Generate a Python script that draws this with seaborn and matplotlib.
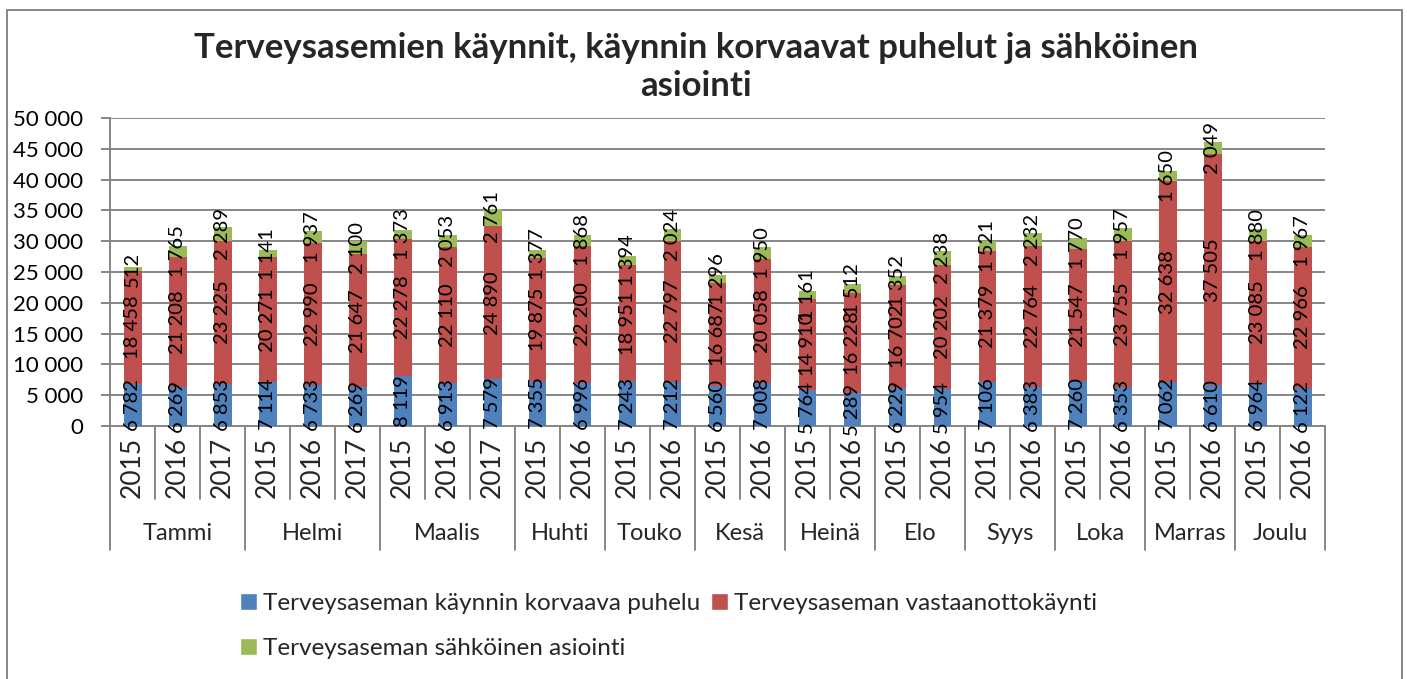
import numpy as np
import pandas as pd
import matplotlib
matplotlib.use("Agg")
import matplotlib.pyplot as plt
import seaborn as sns
from matplotlib.ticker import FuncFormatter, MultipleLocator
import matplotlib.transforms as mtransforms
from matplotlib.patches import Patch
from matplotlib.lines import Line2D

# ---------------- data ----------------
months = ["Tammi", "Helmi", "Maalis", "Huhti", "Touko", "Kesä",
          "Heinä", "Elo", "Syys", "Loka", "Marras", "Joulu"]
month_years = [["2015", "2016", "2017"], ["2015", "2016", "2017"], ["2015", "2016", "2017"],
               ["2015", "2016"], ["2015", "2016"], ["2015", "2016"], ["2015", "2016"],
               ["2015", "2016"], ["2015", "2016"], ["2015", "2016"], ["2015", "2016"],
               ["2015", "2016"]]

# Terveysaseman käynnin korvaava puhelu
phone = [6782, 6269, 6853, 7114, 6733, 6269, 8119, 6913, 7579, 7355, 6996,
         7243, 7212, 6560, 7008, 5764, 5289, 6229, 5954, 7106, 6383,
         7260, 6353, 7062, 6610, 6964, 6122]
# Terveysaseman vastaanottokäynti
visits = [18458, 21208, 23225, 20271, 22990, 21647, 22278, 22110, 24890, 19875, 22200,
          18951, 22797, 16687, 20058, 14910, 16228, 16702, 20202, 21379, 22764,
          21547, 23755, 32638, 37505, 23085, 22966]
# Terveysaseman sähköinen asiointi
eservice = [512, 1765, 2289, 1141, 1937, 2100, 1373, 2053, 2761, 1377, 1868,
            1394, 2024, 1296, 1950, 1161, 1512, 1352, 2238, 1521, 2232,
            1770, 1957, 1650, 2049, 1880, 1967]

series_names = ["Terveysaseman käynnin korvaava puhelu",
                "Terveysaseman vastaanottokäynti",
                "Terveysaseman sähköinen asiointi"]
title = "Terveysasemien käynnit, käynnin korvaavat puhelut ja sähköinen\nasiointi"

BLUE, RED, GREEN = "#4F81BD", "#C0504D", "#9BBB59"
GRID = "#868686"

cats, years, month_of = [], [], []
for m, ys in zip(months, month_years):
    for y in ys:
        cats.append(f"{m} {y}")
        years.append(y)
        month_of.append(m)

df = pd.DataFrame({"cat": cats, "phone": phone, "visit": visits, "e": eservice})

# ---------------- style ----------------
sns.set_theme(style="white")
plt.rcParams["font.family"] = ["Lato", "DejaVu Sans"]

W, H = 1407, 679
fig = plt.figure(figsize=(W / 100, H / 100), dpi=100)
ax_l, ax_r, ax_t, ax_b = 110, 1325, 118, 426
ax = fig.add_axes([ax_l / W, 1 - ax_b / H, (ax_r - ax_l) / W, (ax_b - ax_t) / H])

fmt = lambda v: f"{v:,.0f}".replace(",", " ")

bottom2 = np.array(phone)
bottom3 = np.array(phone) + np.array(visits)
common = dict(data=df, x="cat", width=0.4, saturation=1, errorbar=None,
              linewidth=0, ax=ax, zorder=3)
sns.barplot(y="phone", color=BLUE, **common)
sns.barplot(y="visit", color=RED, bottom=bottom2, **common)
sns.barplot(y="e", color=GREEN, bottom=bottom3, **common)

for cont in ax.containers:
    ax.bar_label(cont, labels=[fmt(v) for v in cont.datavalues], label_type="center",
                 rotation=90, fontsize=14.5, color="black", zorder=5)

n = len(cats)
ax.set_xlim(-0.5, n - 0.5)
ax.set_ylim(0, 50000)
ax.yaxis.set_major_locator(MultipleLocator(5000))
ax.yaxis.set_major_formatter(FuncFormatter(lambda v, p: fmt(v)))
ax.set_xlabel("")
ax.set_ylabel("")
ax.set_xticks([])
ax.grid(axis="y", color=GRID, linewidth=1.4, zorder=0)
ax.set_axisbelow(True)
for s in ["top", "right"]:
    ax.spines[s].set_visible(False)
for s in ["left", "bottom"]:
    ax.spines[s].set_color(GRID)
    ax.spines[s].set_linewidth(1.4)
ax.tick_params(axis="y", which="major", direction="out", length=6.5, width=1.4,
               color=GRID, labelsize=16, pad=13, left=True, labelcolor="black")

# two-level category axis
trans = mtransforms.blended_transform_factory(ax.transData, ax.transAxes)
axh = ax_b - ax_t
y_year = -(499 - ax_b) / axh
y_month = -(550 - ax_b) / axh
for i in range(n + 1):
    boundary = i - 0.5
    is_month_edge = (i == 0 or i == n or month_of[i] != month_of[i - 1])
    yend = y_month if is_month_edge else y_year
    ax.add_line(Line2D([boundary, boundary], [0, yend], transform=trans, color=GRID,
                       linewidth=1.4, clip_on=False))
for i, y in enumerate(years):
    ax.text(i, -(437 - ax_b) / axh, y, transform=trans,
            rotation=90, ha="center", va="top", fontsize=19)
start = 0
for m, ys in zip(months, month_years):
    c = start + (len(ys) - 1) / 2
    ax.text(c, -(533 - ax_b) / axh, m, transform=trans, ha="center", va="center", fontsize=17)
    start += len(ys)

# title
fig.text(696 / W, 1 - 67 / H, title, ha="center", va="center", fontsize=25,
         fontweight="bold", linespacing=1.25)

# legend
handles = [Patch(facecolor=BLUE, label=series_names[0]),
           Patch(facecolor=GREEN, label=series_names[2]),
           Patch(facecolor=RED, label=series_names[1])]
fig.legend(handles=handles, ncol=2, loc="upper left", bbox_to_anchor=(240 / W, 1 - 593 / H),
           frameon=False, fontsize=17.5, handlelength=0.7, handleheight=0.7,
           handletextpad=0.25, columnspacing=0.45, labelspacing=0.99, borderpad=0,
           borderaxespad=0)

# outer frame
fig.add_artist(Line2D([7 / W, 7 / W, 1402 / W, 1402 / W], [-0.05, 1 - 10 / H, 1 - 10 / H, -0.05],
                      transform=fig.transFigure, color=GRID, linewidth=1.4))

fig.savefig("out.png", dpi=100)
